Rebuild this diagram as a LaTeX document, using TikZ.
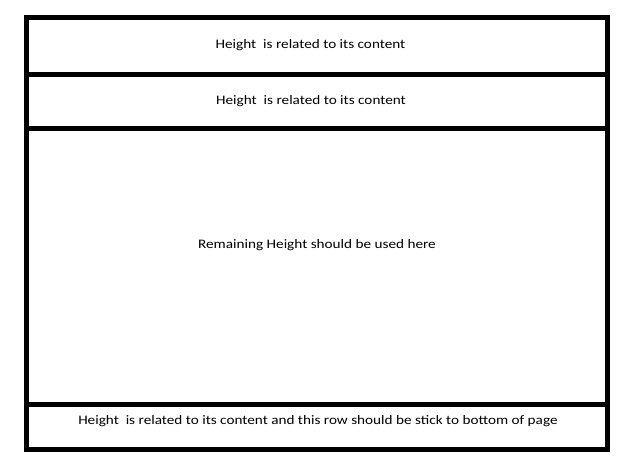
\documentclass[tikz,border=0pt]{standalone}
\usepackage{fontspec}
\setmainfont{Carlito}[FakeStretch=1.17]
\begin{document}
\begin{tikzpicture}[x=1pt,y=-1pt,
  frame/.style={line width=5pt,draw=black},
  label/.style={font=\fontsize{13}{15}\selectfont,inner sep=0pt,anchor=base}]
\useasboundingbox (0,0) rectangle (621,459);
\coordinate (tl) at (26.5,17.5);
\coordinate (br) at (607.5,449);
\draw[frame] (tl) rectangle (br);
\coordinate (l1a) at (26.5,74); \coordinate (l1b) at (607.5,74);
\coordinate (l2a) at (26.5,128.5); \coordinate (l2b) at (607.5,128.5);
\coordinate (l3a) at (26.5,404); \coordinate (l3b) at (607.5,404);
\draw[frame] (l1a) -- (l1b);
\draw[frame] (l2a) -- (l2b);
\draw[frame] (l3a) -- (l3b);
\node[label] (t1) at (310.5,48.5) {Height\ \ is related to its content};
\node[label] (t2) at (311,104) {Height\ \ is related to its content};
\node[label] (t3) at (317,248.5) {Remaining Height should be used here};
\node[label] (t4) at (318,424.5) {Height\ \ is related to its content and this row should be stick to bottom of page};
\end{tikzpicture}
\end{document}
